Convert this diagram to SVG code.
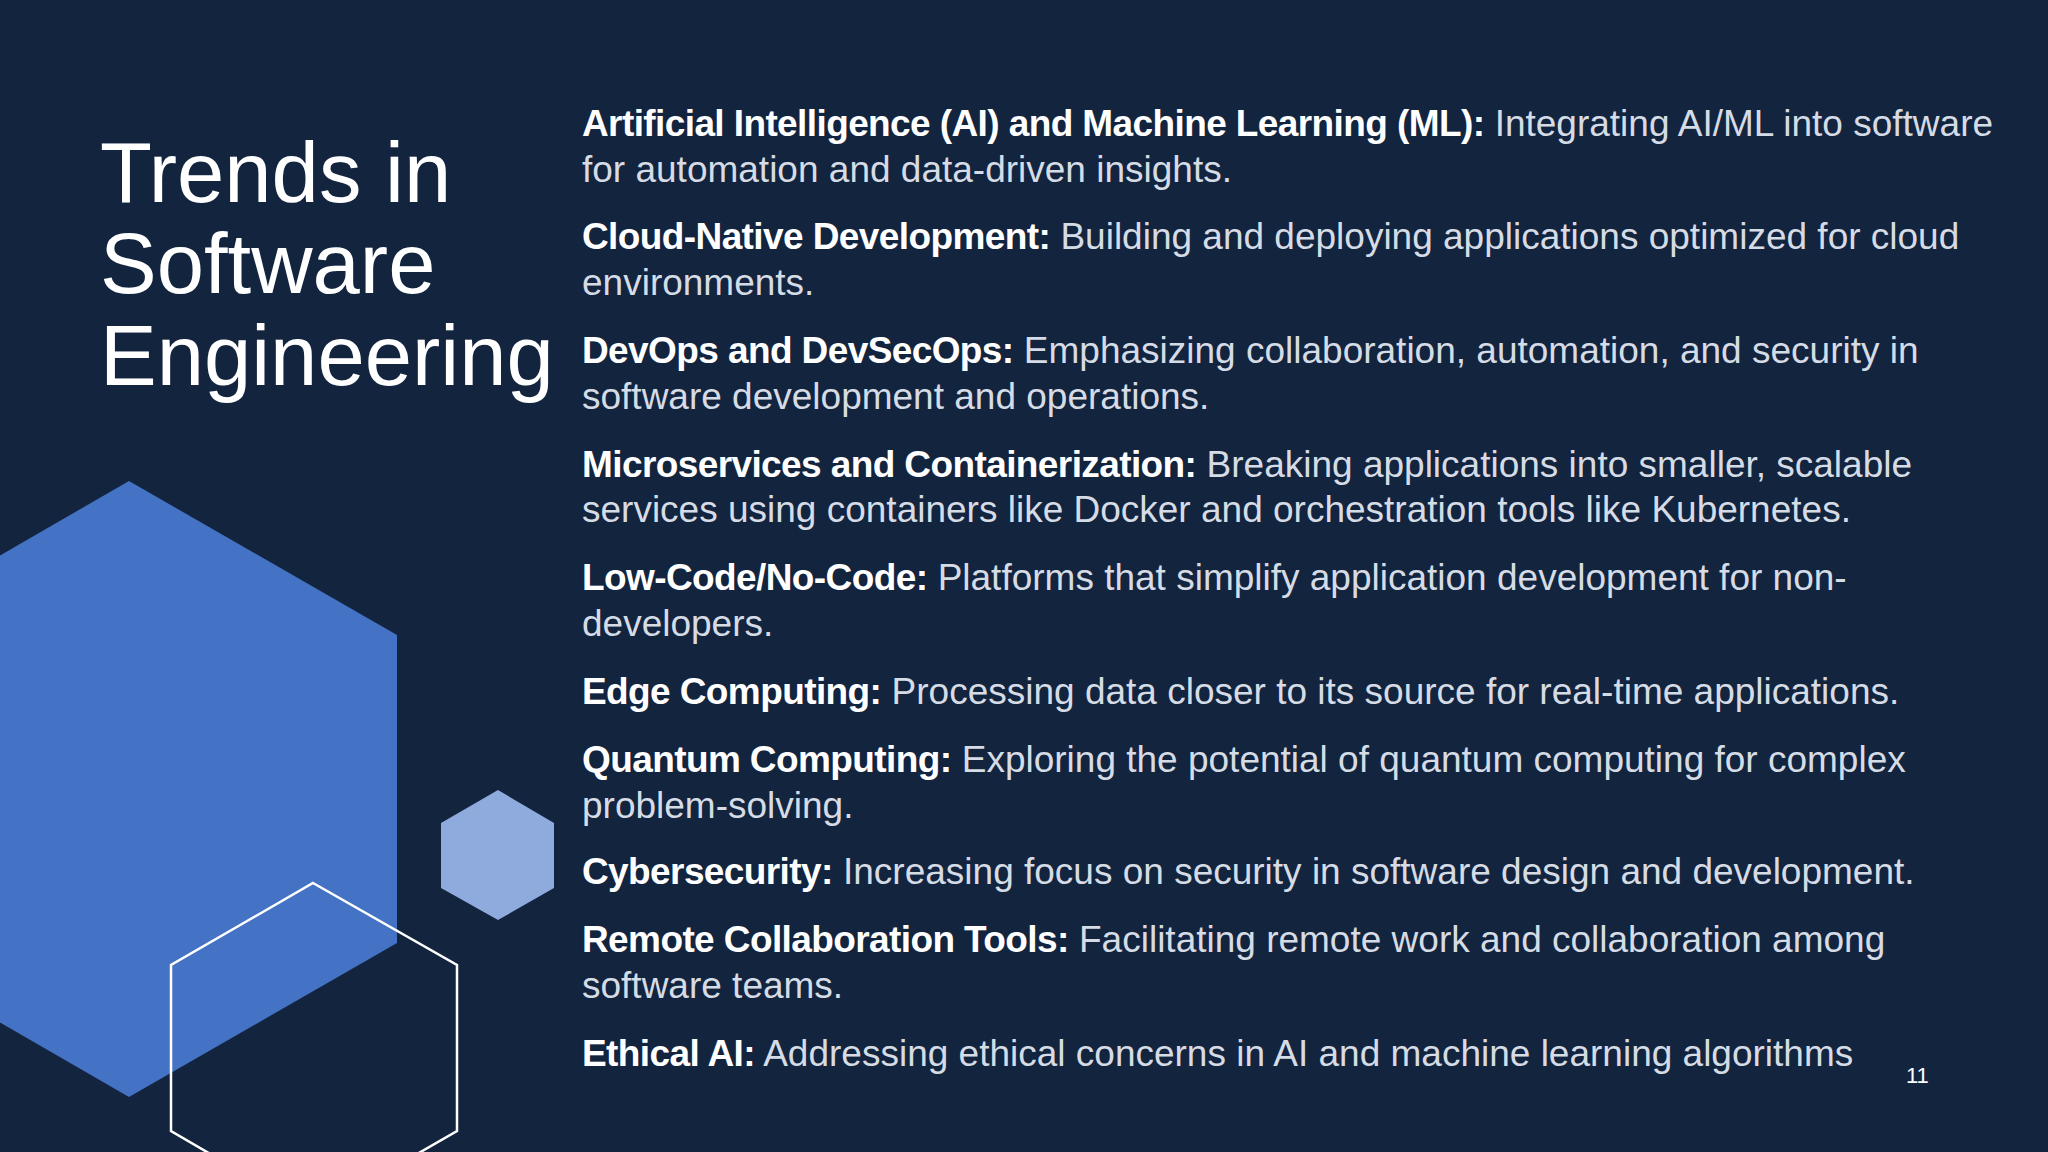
<svg xmlns="http://www.w3.org/2000/svg" width="2048" height="1152" viewBox="0 0 2048 1152">
<style>
.t{font-family:"Liberation Sans",Arial,sans-serif;font-size:37px;fill:#D6DCE5}
.b{fill:#FFFFFF;font-weight:bold;letter-spacing:-0.6px}
.h{font-family:"Liberation Sans",Arial,sans-serif;font-size:85px;fill:#FFFFFF}
</style>
<rect width="2048" height="1152" fill="#13243F"/>
<g id="shapes">
<polygon points="129,481 397,635 397,943 129,1097 -138,943 -138,635" fill="#4472C4"/>
<polygon points="498,790 554,823 554,888 498,920 441,888 441,823" fill="#8FAADC"/>
<polygon points="313,883 457,965 457,1131 313,1214 171,1131 171,965" fill="none" stroke="#FFFFFF" stroke-width="2.5"/>
</g>
<g id="title">
<text class="h" x="100" y="202">Trends in</text>
<text class="h" x="100" y="293">Software</text>
<text class="h" x="100" y="385">Engineering</text>
</g>
<g id="bullets">
<text class="t" x="582" y="136"><tspan class="b">Artificial Intelligence (AI) and Machine Learning (ML):</tspan> Integrating AI/ML into software</text>
<text class="t" x="582" y="182">for automation and data-driven insights.</text>
<text class="t" x="582" y="249"><tspan class="b">Cloud-Native Development:</tspan> Building and deploying applications optimized for cloud</text>
<text class="t" x="582" y="295">environments.</text>
<text class="t" x="582" y="363"><tspan class="b">DevOps and DevSecOps:</tspan> Emphasizing collaboration, automation, and security in</text>
<text class="t" x="582" y="409">software development and operations.</text>
<text class="t" x="582" y="477"><tspan class="b">Microservices and Containerization:</tspan> Breaking applications into smaller, scalable</text>
<text class="t" x="582" y="522">services using containers like Docker and orchestration tools like Kubernetes.</text>
<text class="t" x="582" y="590"><tspan class="b">Low-Code/No-Code:</tspan> Platforms that simplify application development for non-</text>
<text class="t" x="582" y="636">developers.</text>
<text class="t" x="582" y="704"><tspan class="b">Edge Computing:</tspan> Processing data closer to its source for real-time applications.</text>
<text class="t" x="582" y="772"><tspan class="b">Quantum Computing:</tspan> Exploring the potential of quantum computing for complex</text>
<text class="t" x="582" y="818">problem-solving.</text>
<text class="t" x="582" y="884"><tspan class="b">Cybersecurity:</tspan> Increasing focus on security in software design and development.</text>
<text class="t" x="582" y="952"><tspan class="b">Remote Collaboration Tools:</tspan> Facilitating remote work and collaboration among</text>
<text class="t" x="582" y="998">software teams.</text>
<text class="t" x="582" y="1066"><tspan class="b">Ethical AI:</tspan> Addressing ethical concerns in AI and machine learning algorithms</text>
</g>
<text x="1906" y="1083" style="font-family:'Liberation Sans',Arial,sans-serif;font-size:22px;fill:#FFFFFF">11</text>
</svg>
